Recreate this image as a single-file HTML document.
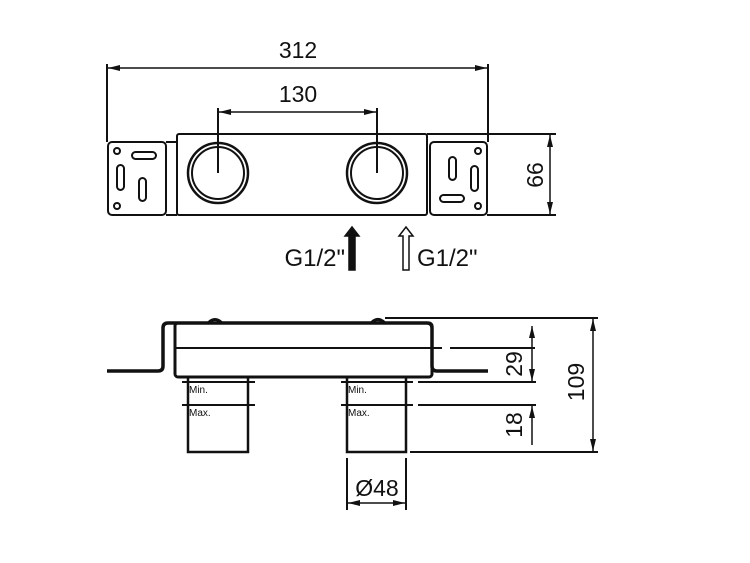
<!DOCTYPE html>
<html><head><style>body{margin:0;background:#fff}svg{display:block}text{font-family:"Liberation Sans",sans-serif;fill:#111}</style></head><body>
<svg width="750" height="563" viewBox="0 0 750 563" xmlns="http://www.w3.org/2000/svg">
<defs>
<marker id="a" viewBox="0 0 12 6" refX="12" refY="3" markerWidth="12" markerHeight="6" orient="auto-start-reverse" markerUnits="userSpaceOnUse"><path d="M0,0L12,3L0,6z" fill="#111"/></marker>
</defs>
<g stroke="#111" fill="none" stroke-width="2">
<line x1="107" y1="64" x2="107" y2="142"/><line x1="488" y1="64" x2="488" y2="142"/>
<line x1="108" y1="68" x2="487" y2="68" stroke-width="1.5" marker-start="url(#a)" marker-end="url(#a)"/>
<line x1="218" y1="108" x2="218" y2="173"/><line x1="377" y1="108" x2="377" y2="173"/>
<line x1="219" y1="112" x2="376" y2="112" stroke-width="1.5" marker-start="url(#a)" marker-end="url(#a)"/>
<rect x="108" y="142" width="58" height="73" rx="4"/>
<line x1="166" y1="142" x2="177" y2="142"/>
<rect x="177" y="134" width="250" height="81" rx="2"/>
<line x1="166" y1="215" x2="177" y2="215"/>
<rect x="430" y="142" width="57" height="73" rx="4"/>
<circle cx="218" cy="173" r="30" stroke-width="2.5"/><circle cx="218" cy="173" r="26"/>
<circle cx="377" cy="173" r="30" stroke-width="2.5"/><circle cx="377" cy="173" r="26"/>
<circle cx="117" cy="151" r="3"/><circle cx="117" cy="206" r="3"/>
<circle cx="478" cy="151" r="3"/><circle cx="478" cy="206" r="3"/>
<rect x="132" y="152" width="24" height="7" rx="3.5"/>
<rect x="117" y="165" width="7" height="25" rx="3.5"/>
<rect x="139" y="178" width="7" height="23" rx="3.5"/>
<rect x="449" y="157" width="7" height="23" rx="3.5"/>
<rect x="471" y="166" width="7" height="25" rx="3.5"/>
<rect x="440" y="195" width="24" height="7" rx="3.5"/>
<line x1="427" y1="134" x2="556" y2="134"/><line x1="487" y1="215" x2="556" y2="215"/>
<line x1="550" y1="135" x2="550" y2="214" stroke-width="1.5" marker-start="url(#a)" marker-end="url(#a)"/>
<path d="M349,270V236h-4l7,-9 7,9h-4v34z" fill="#111" stroke-width="1.5"/>
<path d="M403,270V236h-4l7,-9 7,9h-4v34z" fill="#fff" stroke-width="1.5"/>
<path d="M107,371H158q5,0 5,-5V328q0,-5 5,-5H427q5,0 5,5V366q0,5 5,5H488" stroke-width="3.5"/>
<rect x="175" y="323" width="257" height="54" rx="3" stroke-width="3"/>
<line x1="175" y1="348" x2="442" y2="348"/><line x1="450" y1="348" x2="535" y2="348"/>
<path d="M208,323q7,-7 14,0M371,323q7,-7 14,0" stroke-width="3"/>
<line x1="385" y1="318" x2="598" y2="318"/>
<rect x="188" y="377" width="60" height="75" stroke-width="2.5"/>
<rect x="347" y="377" width="59" height="75" stroke-width="2.5"/>
<line x1="182" y1="382" x2="255" y2="382"/><line x1="182" y1="405" x2="255" y2="405"/>
<line x1="341" y1="382" x2="413" y2="382"/><line x1="341" y1="405" x2="413" y2="405"/>
<line x1="418" y1="382" x2="536" y2="382"/><line x1="418" y1="405" x2="536" y2="405"/>
<line x1="410" y1="452" x2="598" y2="452"/>
<line x1="532" y1="326" x2="532" y2="381" stroke-width="1.5" marker-start="url(#a)" marker-end="url(#a)"/>
<line x1="532" y1="406" x2="532" y2="445" stroke-width="1.5" marker-start="url(#a)"/>
<line x1="593" y1="319" x2="593" y2="451" stroke-width="1.5" marker-start="url(#a)" marker-end="url(#a)"/>
<line x1="347" y1="458" x2="347" y2="510"/><line x1="406" y1="458" x2="406" y2="510"/>
<line x1="348" y1="503" x2="405" y2="503" stroke-width="1.5" marker-start="url(#a)" marker-end="url(#a)"/>
</g>
<text x="298" y="58" font-size="23" text-anchor="middle">312</text>
<text x="298" y="102" font-size="23" text-anchor="middle">130</text>
<text font-size="23" text-anchor="middle" transform="translate(543,175) rotate(-90)">66</text>
<text x="345" y="266" font-size="24" text-anchor="end">G1/2"</text>
<text x="417" y="266" font-size="24">G1/2"</text>
<text font-size="23" text-anchor="middle" transform="translate(522,364) rotate(-90)">29</text>
<text font-size="23" text-anchor="middle" transform="translate(522,425) rotate(-90)">18</text>
<text font-size="23" text-anchor="middle" transform="translate(584,382) rotate(-90)">109</text>
<text x="377" y="496" font-size="23" text-anchor="middle">Ø48</text>
<g font-size="10"><text x="189" y="393">Min.</text><text x="189" y="416">Max.</text><text x="348" y="393">Min.</text><text x="348" y="416">Max.</text></g>
</svg>
</body></html>
